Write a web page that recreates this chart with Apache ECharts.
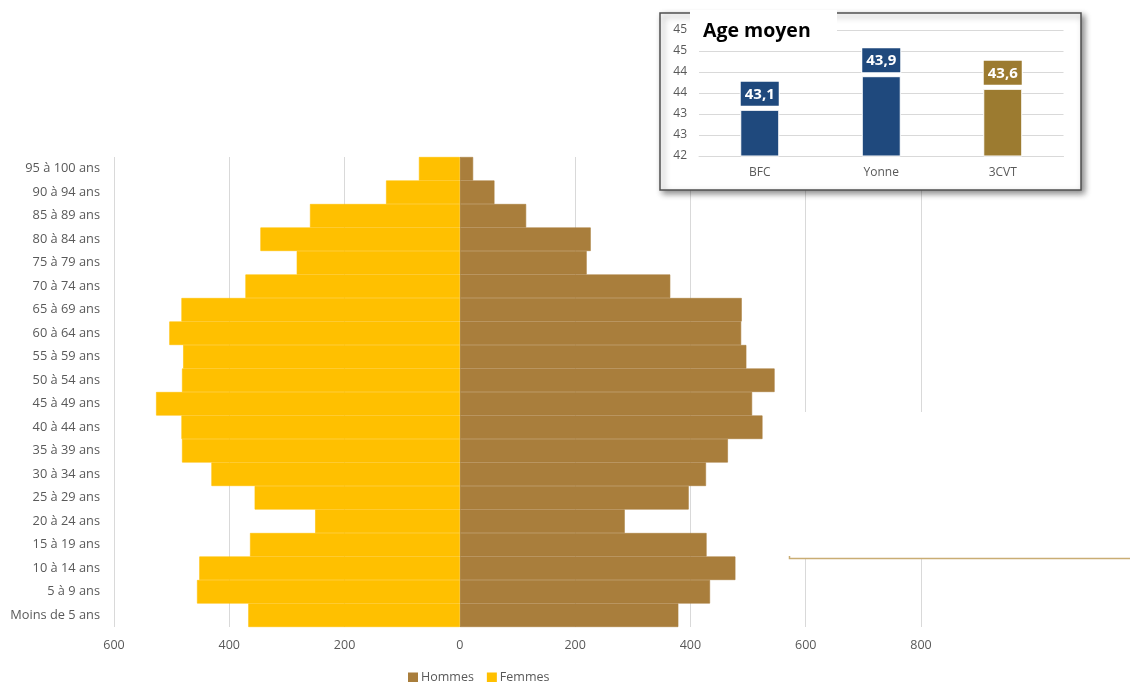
<!DOCTYPE html>
<html>
<head>
<meta charset="utf-8">
<script src="https://cdn.jsdelivr.net/npm/echarts@6/dist/echarts.min.js"></script>
<style>
html,body{margin:0;padding:0;background:#fff;}
#c{width:1130px;height:682px;}
</style>
</head>
<body>
<div id="c"></div>
<script>
// Pyramid data (bottom to top)
var ageGroups = ["Moins de 5 ans","5 à 9 ans","10 à 14 ans","15 à 19 ans","20 à 24 ans","25 à 29 ans","30 à 34 ans","35 à 39 ans","40 à 44 ans","45 à 49 ans","50 à 54 ans","55 à 59 ans","60 à 64 ans","65 à 69 ans","70 à 74 ans","75 à 79 ans","80 à 84 ans","85 à 89 ans","90 à 94 ans","95 à 100 ans"];
var hommes = [379, 434, 478, 428, 286, 397, 427, 465, 525, 507, 546, 497, 488, 489, 365, 220, 227, 115, 60, 23];
var femmes = [367, 456, 452, 364, 251, 356, 431, 482, 483, 527, 482, 480, 504, 483, 372, 283, 346, 260, 128, 71];
var xTicks = [-600, -400, -200, 0, 200, 400, 600, 800];

// Inset data
var zones = ["BFC", "Yonne", "3CVT"];
var ageMoyen = [43.1, 43.9, 43.6];
var zoneColors = ["#1F497D", "#1F497D", "#9C7B30"];

var FONT = "Open Sans";
var chart = echarts.init(document.getElementById('c'), null, {renderer: 'canvas'});

var option = {
  animation: false,
  backgroundColor: '#fff',
  textStyle: {fontFamily: FONT},
  legend: {
    data: ['Hommes', 'Femmes'],
    left: 403, top: 666,
    itemWidth: 8, itemHeight: 8, itemGap: 13,
    icon: 'rect',
    textStyle: {color: '#595959', fontSize: 12.5, fontFamily: FONT, padding: [0,0,0,-1]}
  },
  grid: [
    {left: 114, right: 209, top: 157, bottom: 55, containLabel: false},
    {left: 699, right: 66.5, top: 30, bottom: 526, containLabel: false}
  ],
  xAxis: [
    {
      gridIndex: 0, type: 'value', min: xTicks[0], max: xTicks[xTicks.length-1], interval: 200,
      axisLine: {show: false}, axisTick: {show: false},
      splitLine: {show: true, lineStyle: {color: '#D9D9D9', width: 1}},
      axisLabel: {color: '#595959', fontSize: 12.5, margin: 12, formatter: function(v){return String(Math.abs(v));}}
    },
    {
      gridIndex: 1, type: 'category', data: zones, z: 3,
      axisLine: {show: true, lineStyle: {color: '#D9D9D9'}}, axisTick: {show: false},
      axisLabel: {color: '#595959', fontSize: 12, margin: 11}
    }
  ],
  yAxis: [
    {
      gridIndex: 0, type: 'category', data: ageGroups,
      axisLine: {show: false, onZero: false}, axisTick: {show: false},
      axisLabel: {color: '#595959', fontSize: 12.8, margin: 14}
    },
    {
      gridIndex: 1, type: 'value', min: 42, max: 45, interval: 0.5, z: 3,
      axisLine: {show: false}, axisTick: {show: false},
      splitLine: {lineStyle: {color: '#D9D9D9'}},
      axisLabel: {color: '#595959', fontSize: 12, margin: 12, formatter: function(v){return String(Math.round(v));}}
    }
  ],
  graphic: [
    // inset panel with shadow
    {type: 'rect', z: 1, shape: {x: 660, y: 13, width: 421, height: 177},
      style: {fill: '#fff', stroke: '#505050', lineWidth: 1.5, shadowBlur: 6, shadowOffsetX: 3, shadowOffsetY: 3, shadowColor: 'rgba(0,0,0,0.45)'}},
    // title backdrop
    {type: 'rect', z: 10, shape: {x: 690, y: 10, width: 147, height: 34}, style: {fill: '#fff'}},
    {type: 'text', z: 11, left: 703, top: 21, style: {text: 'Age moyen', fill: '#000', font: 'bold 19.5px "Open Sans"'}},
    // white patch on main chart
    {type: 'rect', z: 1, shape: {x: 789, y: 412, width: 341, height: 146}, style: {fill: '#fff'}},
    {type: 'polyline', z: 1, shape: {points: [[789.5, 556], [789.5, 558.5], [1130, 558.5]]}, style: {stroke: '#C9AD74', lineWidth: 1.5, fill: null}}
  ],
  series: [
    {
      name: 'Hommes', type: 'bar', xAxisIndex: 0, yAxisIndex: 0,
      data: hommes, barCategoryGap: '0%', barGap: '-100%',
      itemStyle: {color: '#A97E3C', borderColor: '#A97E3C', borderWidth: 0.6}
    },
    {
      name: 'Femmes', type: 'bar', xAxisIndex: 0, yAxisIndex: 0,
      data: femmes.map(function(v){return -v;}), barCategoryGap: '0%', barGap: '-100%',
      itemStyle: {color: '#FFC000', borderColor: '#FFC000', borderWidth: 0.6}
    },
    {
      name: 'Age moyen', type: 'bar', xAxisIndex: 1, yAxisIndex: 1, z: 5,
      barWidth: 39,
      data: ageMoyen.map(function(v, i){
        return {value: v, itemStyle: {color: zoneColors[i]}, label: {backgroundColor: zoneColors[i]}};
      }),
      itemStyle: {borderColor: '#fff', borderWidth: 1},
      label: {
        show: true, position: 'top', distance: 4,
        color: '#fff', fontWeight: 'bold', fontSize: 15, fontFamily: FONT,
        padding: [5, 4, 4, 4], borderColor: '#fff', borderWidth: 1,
        formatter: function(p){return p.value.toFixed(1).replace('.', ',');}
      }
    }
  ]
};
chart.setOption(option);
</script>
</body>
</html>
